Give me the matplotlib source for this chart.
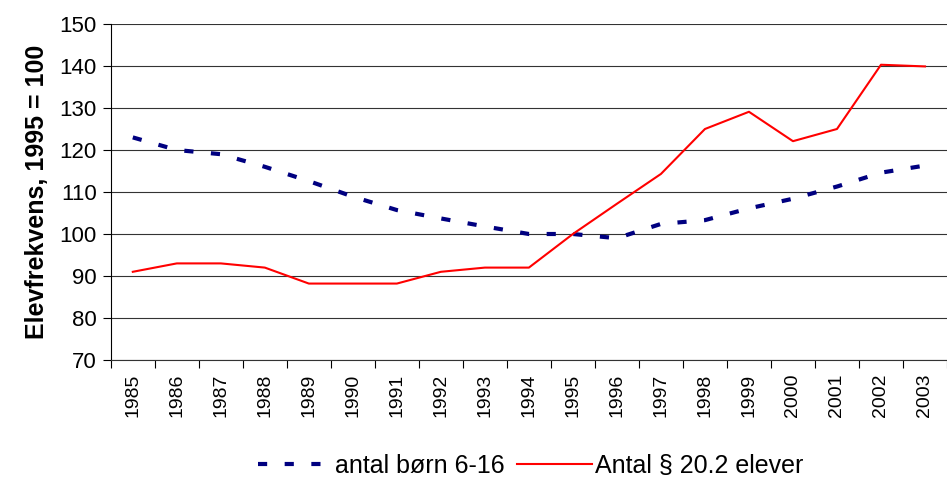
import matplotlib
matplotlib.use("Agg")
import matplotlib.pyplot as plt
import numpy as np

plt.rcParams['font.family'] = ['Liberation Sans', 'DejaVu Sans']

years = [str(y) for y in range(1985, 2004)]
born_6_16 = [123, 120, 119, 116, 112.6, 108.9, 105.7, 103.7, 101.8, 100,
             100, 99, 102.4, 103.3, 106.1, 108.4, 111.3, 114.6, 116.3]
elever_20_2 = [91, 93, 93, 92, 88.2, 88.2, 88.2, 91, 92, 92,
               100, 107.2, 114.3, 125, 129.1, 122.1, 125, 140.3, 139.9]

fig = plt.figure(figsize=(9.47, 4.8), dpi=100)
ax = fig.add_axes([0.117, 0.25, 0.883, 0.70])

x = np.arange(len(years))
ax.plot(x, born_6_16, color='#000080', lw=3, dashes=(2.2, 4.2),
        dash_capstyle='butt', label='antal børn 6-16')
ax.plot(x, elever_20_2, color='red', lw=1.5, label='Antal § 20.2 elever')

ax.set_xlim(-0.5, len(years) - 0.5)
ax.set_ylim(70, 150)
ax.set_yticks(range(70, 151, 10))
ax.tick_params(axis='y', labelsize=16, length=6, width=0.8, pad=4)
ax.yaxis.grid(True, color='#333333', lw=0.8)
ax.set_axisbelow(True)

ax.set_xticks(x)
ax.set_xticklabels(years, rotation=90, fontsize=14)
ax.set_xticks(np.arange(-0.5, len(years), 1), minor=True)
ax.tick_params(axis='x', which='major', length=0, pad=10)
ax.tick_params(axis='x', which='minor', length=6, width=0.8)

for s in ['top', 'right']:
    ax.spines[s].set_visible(False)
ax.spines['left'].set_color('black')
ax.spines['bottom'].set_color('#333333')

ax.set_ylabel('Elevfrekvens, 1995 = 100', fontsize=18, fontweight='bold', labelpad=8)

fig.legend(loc='center', bbox_to_anchor=(0.56, 0.03), ncol=2, frameon=False,
           fontsize=18, handlelength=3, handletextpad=0.1, columnspacing=0.5)

fig.savefig('out.png', dpi=100)
